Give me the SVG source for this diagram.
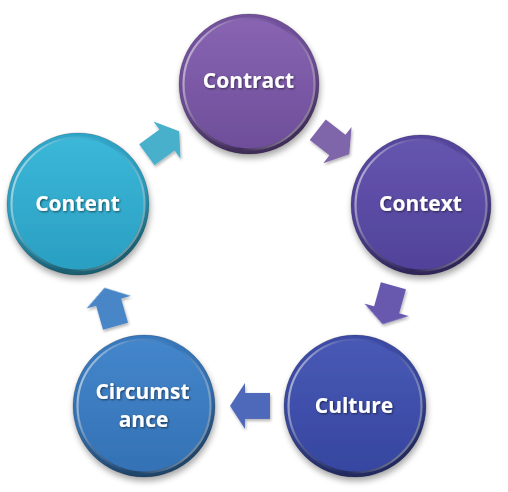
<svg xmlns="http://www.w3.org/2000/svg" width="508" height="492" viewBox="0 0 508 492">
  <defs>
    <filter id="shadow" x="-20%" y="-20%" width="140%" height="145%">
      <feGaussianBlur in="SourceAlpha" stdDeviation="3"/>
      <feOffset dx="1" dy="4" result="b"/>
      <feComponentTransfer><feFuncA type="linear" slope="0.35"/></feComponentTransfer>
      <feMerge><feMergeNode/><feMergeNode in="SourceGraphic"/></feMerge>
    </filter>
    <filter id="ashadow" x="-30%" y="-30%" width="160%" height="160%">
      <feGaussianBlur in="SourceAlpha" stdDeviation="1.5"/>
      <feOffset dx="1" dy="2" result="b"/>
      <feComponentTransfer><feFuncA type="linear" slope="0.3"/></feComponentTransfer>
      <feMerge><feMergeNode/><feMergeNode in="SourceGraphic"/></feMerge>
    </filter>
    <filter id="tshadow" x="-10%" y="-30%" width="120%" height="160%">
      <feGaussianBlur in="SourceAlpha" stdDeviation="0.8"/>
      <feOffset dx="0.5" dy="0.8"/>
      <feComponentTransfer><feFuncA type="linear" slope="0.55"/></feComponentTransfer>
      <feMerge><feMergeNode/><feMergeNode in="SourceGraphic"/></feMerge>
    </filter>
    <linearGradient id="rim" x1="0" y1="0" x2="1" y2="0.35">
      <stop offset="0" stop-color="#fff" stop-opacity="0.75"/>
      <stop offset="0.35" stop-color="#fff" stop-opacity="0.15"/>
      <stop offset="0.7" stop-color="#fff" stop-opacity="0"/>
      <stop offset="1" stop-color="#fff" stop-opacity="0.35"/>
    </linearGradient>
    <linearGradient id="edge" x1="0" y1="0" x2="0.3" y2="1">
      <stop offset="0" stop-color="#000" stop-opacity="0"/>
      <stop offset="0.6" stop-color="#000" stop-opacity="0.1"/>
      <stop offset="1" stop-color="#000" stop-opacity="0.45"/>
    </linearGradient>
    <linearGradient id="gContract" x1="0" y1="0" x2="0" y2="1">
      <stop offset="0" stop-color="#8864B2"/><stop offset="1" stop-color="#6E4E9A"/>
    </linearGradient>
    <linearGradient id="gContext" x1="0" y1="0" x2="0" y2="1">
      <stop offset="0" stop-color="#6555AF"/><stop offset="1" stop-color="#51429A"/>
    </linearGradient>
    <linearGradient id="gCulture" x1="0" y1="0" x2="0" y2="1">
      <stop offset="0" stop-color="#4859B5"/><stop offset="1" stop-color="#3646A0"/>
    </linearGradient>
    <linearGradient id="gCirc" x1="0" y1="0" x2="0" y2="1">
      <stop offset="0" stop-color="#4486CB"/><stop offset="1" stop-color="#3471B5"/>
    </linearGradient>
    <linearGradient id="gContent" x1="0" y1="0" x2="0" y2="1">
      <stop offset="0" stop-color="#3BB7D8"/><stop offset="1" stop-color="#2A9FC2"/>
    </linearGradient>
    <path id="arrow" d="M20,0 L5,-23 L5,-13 L-20,-13 L-20,13 L5,13 L5,23 Z"/>
  </defs>
  <style>
    .face { stroke: none; }
    .rim { fill: none; stroke: url(#rim); stroke-width: 2.2; }
    .edge { fill: url(#edge); }
    .outline { fill: none; stroke: #000; stroke-opacity: 0.18; stroke-width: 1; }
    .lbl { font-family: "Open Sans", "Liberation Sans", sans-serif; font-weight: bold; font-size: 21px; fill: #fff; text-anchor: middle; }
  </style>

  <g id="connectors" filter="url(#ashadow)">
    <use href="#arrow" transform="translate(163,143) rotate(-36)" fill="#48B0CB"/>
    <use href="#arrow" transform="translate(333.5,142) rotate(38)" fill="#7F66AA"/>
    <use href="#arrow" transform="translate(388,305) rotate(105.7)" fill="#6759AE"/>
    <use href="#arrow" transform="translate(250,406) rotate(180)" fill="#5069BA"/>
    <use href="#arrow" transform="translate(110,307) rotate(-106)" fill="#4A86C7"/>
  </g>

  <g id="node-contract" filter="url(#shadow)">
    <circle cx="249" cy="84" r="70" fill="#7653A1"/>
    <circle cx="249" cy="84" r="70" class="edge"/>
    <circle cx="249" cy="84" r="64.5" fill="url(#gContract)"/>
    <circle cx="249" cy="84" r="65.5" class="rim"/>
    <circle cx="249" cy="84" r="70" class="outline"/>
    <text x="248.5" y="87.5" class="lbl" filter="url(#tshadow)">Contract</text>
  </g>

  <g id="node-context" filter="url(#shadow)">
    <circle cx="421" cy="205" r="70" fill="#5747A2"/>
    <circle cx="421" cy="205" r="70" class="edge"/>
    <circle cx="421" cy="205" r="64.5" fill="url(#gContext)"/>
    <circle cx="421" cy="205" r="65.5" class="rim"/>
    <circle cx="421" cy="205" r="70" class="outline"/>
    <text x="420.5" y="211" class="lbl" filter="url(#tshadow)">Context</text>
  </g>

  <g id="node-culture" filter="url(#shadow)">
    <circle cx="355" cy="406" r="71" fill="#3D4DAA"/>
    <circle cx="355" cy="406" r="71" class="edge"/>
    <circle cx="355" cy="406" r="65.5" fill="url(#gCulture)"/>
    <circle cx="355" cy="406" r="66.5" class="rim"/>
    <circle cx="355" cy="406" r="71" class="outline"/>
    <text x="354" y="412.5" class="lbl" filter="url(#tshadow)">Culture</text>
  </g>

  <g id="node-circumstance" filter="url(#shadow)">
    <circle cx="144" cy="406" r="71" fill="#397BC1"/>
    <circle cx="144" cy="406" r="71" class="edge"/>
    <circle cx="144" cy="406" r="65.5" fill="url(#gCirc)"/>
    <circle cx="144" cy="406" r="66.5" class="rim"/>
    <circle cx="144" cy="406" r="71" class="outline"/>
    <text x="142.5" y="398.5" class="lbl" filter="url(#tshadow)">Circumst</text>
    <text x="143.5" y="427" class="lbl" filter="url(#tshadow)">ance</text>
  </g>

  <g id="node-content" filter="url(#shadow)">
    <circle cx="78" cy="204" r="71" fill="#30AACE"/>
    <circle cx="78" cy="204" r="71" class="edge"/>
    <circle cx="78" cy="204" r="65.5" fill="url(#gContent)"/>
    <circle cx="78" cy="204" r="66.5" class="rim"/>
    <circle cx="78" cy="204" r="71" class="outline"/>
    <text x="77.5" y="211" class="lbl" filter="url(#tshadow)">Content</text>
  </g>
</svg>
